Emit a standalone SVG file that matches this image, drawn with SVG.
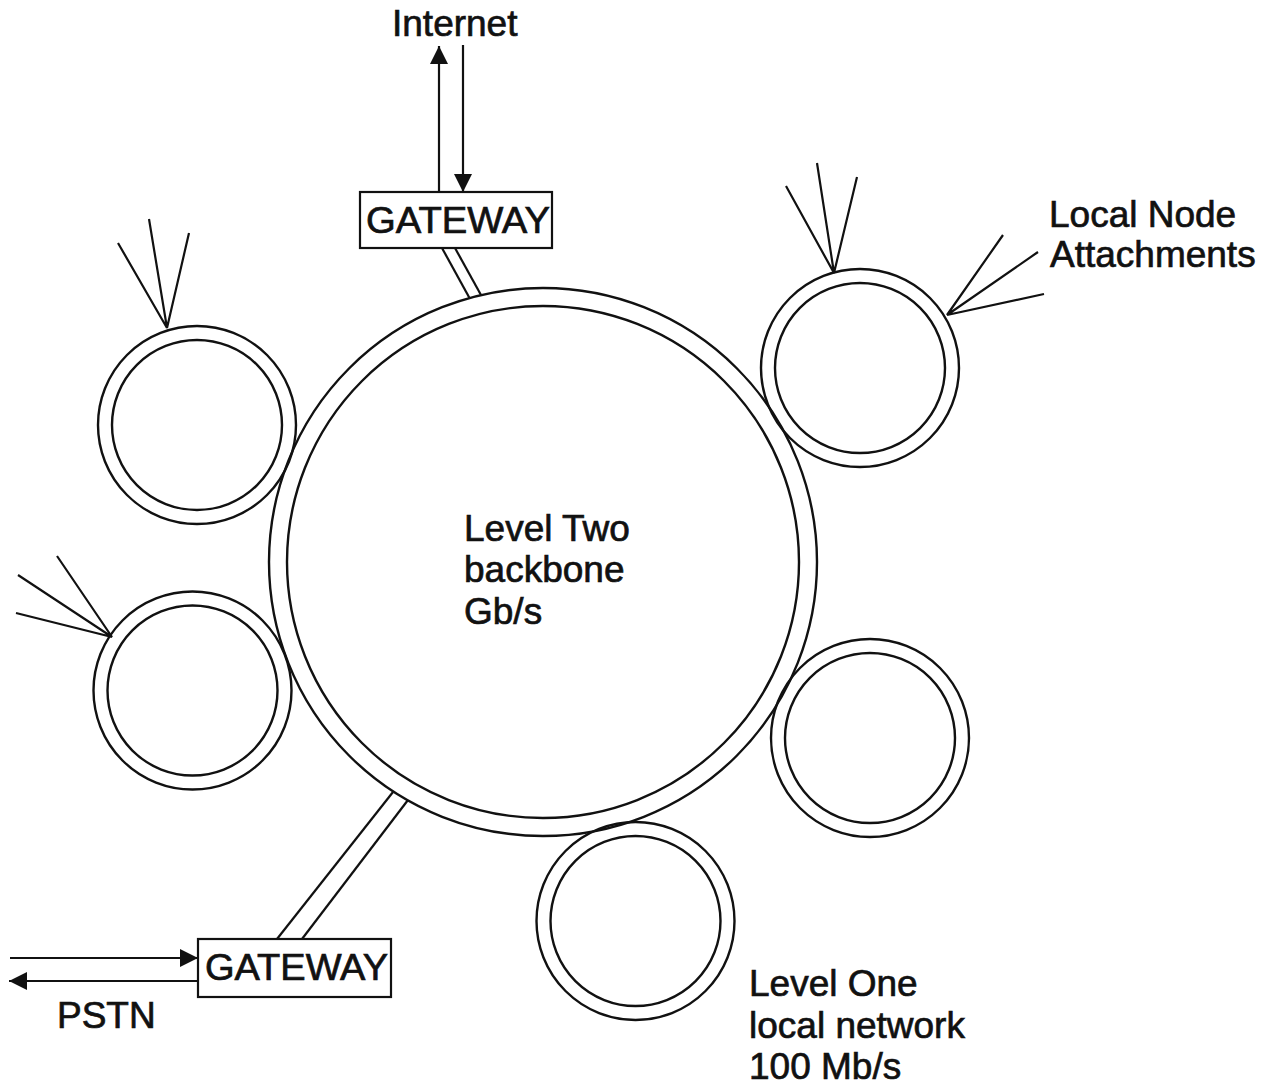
<svg xmlns="http://www.w3.org/2000/svg" width="1276" height="1085" viewBox="0 0 1276 1085">
  <style>
    .ring { fill: none; stroke: #111; stroke-width: 2.4; }
    .line { fill: none; stroke: #111; stroke-width: 2.2; }
    .box { fill: #fff; stroke: #111; stroke-width: 2.2; }
    .lbl { font-family: "Liberation Sans", Arial, Helvetica, sans-serif; font-size: 37px; fill: #111; stroke: #111; stroke-width: 0.7; }
  </style>
  <defs>
    <marker id="arrow" markerUnits="userSpaceOnUse" markerWidth="18" markerHeight="18" refX="18" refY="9" orient="auto">
      <path d="M0,0 L18,9 L0,18 z" fill="#111"/>
    </marker>
  </defs>
  <rect width="1276" height="1085" fill="#fff"/>

  <!-- links: gateway stubs, external arrows, attachment fans -->
  <g id="connectors">
    <!-- double-line stub, top gateway to backbone -->
    <line class="line" x1="442" y1="248" x2="469.5" y2="298"/>
    <line class="line" x1="455" y1="248" x2="481" y2="295"/>
    <!-- double-line stub, bottom gateway to backbone -->
    <line class="line" x1="277" y1="939" x2="393" y2="792"/>
    <line class="line" x1="302" y1="939" x2="408" y2="800"/>
    <!-- Internet arrows -->
    <line class="line" x1="439" y1="192" x2="439" y2="46" marker-end="url(#arrow)"/>
    <line class="line" x1="463" y1="45" x2="463" y2="192" marker-end="url(#arrow)"/>
    <!-- PSTN arrows -->
    <line class="line" x1="10" y1="958" x2="198" y2="958" marker-end="url(#arrow)"/>
    <line class="line" x1="198" y1="981" x2="9" y2="981" marker-end="url(#arrow)"/>
    <!-- attachment fans -->
    <path class="line" d="M118,243 L167,328 L149,219 M167,328 L189,233"/>
    <path class="line" d="M57,556 L112,637 L18,575 M112,637 L16,613"/>
    <path class="line" d="M786,186 L834,273 L817,163 M834,273 L857,177"/>
    <path class="line" d="M1003,235 L947,315 L1038,252 M947,315 L1044,294"/>
  </g>

  <g id="backbone">
    <circle class="ring" cx="543" cy="562" r="274"/>
    <circle class="ring" cx="543" cy="562" r="256"/>
    <text class="lbl" x="464" y="541">Level Two</text>
    <text class="lbl" x="464" y="582">backbone</text>
    <text class="lbl" x="464" y="624">Gb/s</text>
  </g>

  <g id="local-upper-left">
    <circle class="ring" cx="197" cy="425" r="99"/>
    <circle class="ring" cx="197" cy="425" r="85"/>
  </g>
  <g id="local-lower-left">
    <circle class="ring" cx="192.5" cy="690.5" r="99"/>
    <circle class="ring" cx="192.5" cy="690.5" r="85"/>
  </g>
  <g id="local-upper-right">
    <circle class="ring" cx="860" cy="368" r="99"/>
    <circle class="ring" cx="860" cy="368" r="85"/>
  </g>
  <g id="local-right">
    <circle class="ring" cx="870" cy="738" r="99"/>
    <circle class="ring" cx="870" cy="738" r="85"/>
  </g>
  <g id="local-bottom">
    <circle class="ring" cx="635.5" cy="921" r="99"/>
    <circle class="ring" cx="635.5" cy="921" r="85"/>
  </g>

  <g id="gateway-top">
    <rect class="box" x="360" y="192" width="192" height="56"/>
    <text class="lbl" x="366" y="233" textLength="184" lengthAdjust="spacingAndGlyphs">GATEWAY</text>
  </g>
  <g id="gateway-bottom">
    <rect class="box" x="198" y="939" width="193" height="58"/>
    <text class="lbl" x="205" y="980" textLength="183" lengthAdjust="spacingAndGlyphs">GATEWAY</text>
  </g>

  <g id="labels">
    <text class="lbl" x="392" y="36">Internet</text>
    <text class="lbl" x="1049" y="227">Local Node</text>
    <text class="lbl" x="1050" y="267">Attachments</text>
    <text class="lbl" x="57" y="1028">PSTN</text>
    <text class="lbl" x="749" y="996">Level One</text>
    <text class="lbl" x="749" y="1038">local network</text>
    <text class="lbl" x="749" y="1079">100 Mb/s</text>
  </g>
</svg>
